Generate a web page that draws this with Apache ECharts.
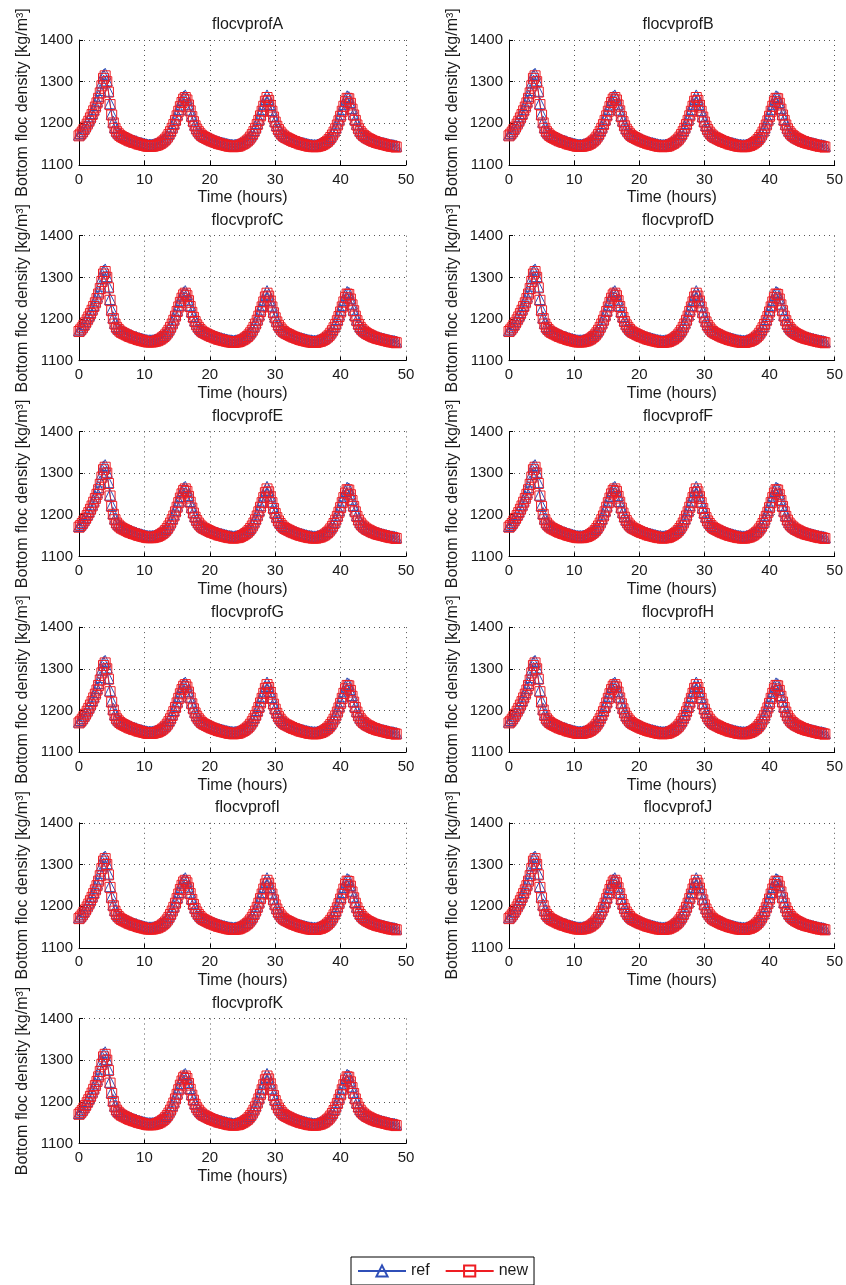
<!DOCTYPE html>
<html>
<head>
<meta charset="utf-8">
<script src="https://cdn.jsdelivr.net/npm/echarts@6/dist/echarts.min.js"></script>
<style>
    html, body { margin: 0; padding: 0; background: #fff; }
    #main { width: 846px; height: 1285px; }
</style>
</head>
<body>
<div id="main"></div>
<script>
// profile names, one subplot each
var profNames = ['flocvprofA', 'flocvprofB', 'flocvprofC', 'flocvprofD', 'flocvprofE', 'flocvprofF',
    'flocvprofG', 'flocvprofH', 'flocvprofI', 'flocvprofJ', 'flocvprofK']

// time (hours)
var timeHours = [
    0, 0.25, 0.5, 0.75, 1, 1.25, 1.5, 1.75,
    2, 2.25, 2.5, 2.75, 3, 3.25, 3.5, 3.75,
    4, 4.25, 4.5, 4.75, 5, 5.25, 5.5, 5.75,
    6, 6.25, 6.5, 6.75, 7, 7.25, 7.5, 7.75,
    8, 8.25, 8.5, 8.75, 9, 9.25, 9.5, 9.75,
    10, 10.25, 10.5, 10.75, 11, 11.25, 11.5, 11.75,
    12, 12.25, 12.5, 12.75, 13, 13.25, 13.5, 13.75,
    14, 14.25, 14.5, 14.75, 15, 15.25, 15.5, 15.75,
    16, 16.25, 16.5, 16.75, 17, 17.25, 17.5, 17.75,
    18, 18.25, 18.5, 18.75, 19, 19.25, 19.5, 19.75,
    20, 20.25, 20.5, 20.75, 21, 21.25, 21.5, 21.75,
    22, 22.25, 22.5, 22.75, 23, 23.25, 23.5, 23.75,
    24, 24.25, 24.5, 24.75, 25, 25.25, 25.5, 25.75,
    26, 26.25, 26.5, 26.75, 27, 27.25, 27.5, 27.75,
    28, 28.25, 28.5, 28.75, 29, 29.25, 29.5, 29.75,
    30, 30.25, 30.5, 30.75, 31, 31.25, 31.5, 31.75,
    32, 32.25, 32.5, 32.75, 33, 33.25, 33.5, 33.75,
    34, 34.25, 34.5, 34.75, 35, 35.25, 35.5, 35.75,
    36, 36.25, 36.5, 36.75, 37, 37.25, 37.5, 37.75,
    38, 38.25, 38.5, 38.75, 39, 39.25, 39.5, 39.75,
    40, 40.25, 40.5, 40.75, 41, 41.25, 41.5, 41.75,
    42, 42.25, 42.5, 42.75, 43, 43.25, 43.5, 43.75,
    44, 44.25, 44.5, 44.75, 45, 45.25, 45.5, 45.75,
    46, 46.25, 46.5, 46.75, 47, 47.25, 47.5, 47.75,
    48, 48.25, 48.5
]

// bottom floc density, reference run (kg/m3)
var refDensity = [
    1173, 1177, 1182, 1188, 1195, 1202, 1209, 1217,
    1225, 1234, 1244, 1254, 1266, 1280, 1298, 1316,
    1319, 1303, 1278, 1248, 1223, 1204, 1191, 1183,
    1178, 1175, 1172, 1170, 1168, 1166, 1164, 1162,
    1161, 1159, 1158, 1157, 1155, 1154, 1153, 1152,
    1151, 1150, 1149, 1149, 1149, 1149, 1150, 1151,
    1152, 1154, 1156, 1159, 1162, 1166, 1171, 1177,
    1184, 1192, 1201, 1211, 1222, 1234, 1245, 1256,
    1264, 1267, 1260, 1247, 1233, 1219, 1207, 1197,
    1189, 1183, 1178, 1174, 1171, 1169, 1167, 1165,
    1163, 1162, 1160, 1159, 1157, 1156, 1155, 1154,
    1153, 1152, 1151, 1150, 1149, 1149, 1148, 1148,
    1149, 1149, 1150, 1152, 1154, 1156, 1159, 1162,
    1166, 1171, 1177, 1184, 1192, 1201, 1211, 1223,
    1234, 1246, 1258, 1267, 1259, 1246, 1232, 1218,
    1206, 1196, 1188, 1182, 1177, 1173, 1170, 1168,
    1166, 1164, 1162, 1161, 1159, 1158, 1156, 1155,
    1154, 1153, 1152, 1151, 1150, 1149, 1149, 1148,
    1148, 1148, 1149, 1150, 1151, 1153, 1155, 1158,
    1161, 1165, 1170, 1176, 1183, 1191, 1200, 1211,
    1222, 1234, 1246, 1257, 1265, 1263, 1251, 1237,
    1223, 1210, 1199, 1190, 1183, 1178, 1174, 1171,
    1168, 1166, 1164, 1162, 1160, 1159, 1157, 1156,
    1155, 1154, 1153, 1152, 1151, 1150, 1149, 1148,
    1148, 1147, 1146
]

// bottom floc density, new run (kg/m3)
var newDensity = [
    1170, 1174, 1179, 1185, 1191, 1198, 1205, 1213,
    1221, 1230, 1239, 1249, 1260, 1273, 1290, 1308,
    1314, 1300, 1275, 1245, 1220, 1201, 1188, 1180,
    1175, 1171, 1168, 1166, 1164, 1162, 1160, 1158,
    1157, 1155, 1154, 1153, 1151, 1150, 1149, 1148,
    1147, 1146, 1145, 1145, 1145, 1145, 1146, 1147,
    1148, 1150, 1152, 1155, 1158, 1162, 1167, 1173,
    1180, 1188, 1197, 1207, 1218, 1229, 1240, 1250,
    1258, 1262, 1256, 1244, 1230, 1216, 1204, 1194,
    1186, 1180, 1175, 1171, 1168, 1166, 1164, 1162,
    1160, 1158, 1157, 1155, 1154, 1152, 1151, 1150,
    1149, 1148, 1147, 1146, 1145, 1145, 1144, 1144,
    1145, 1145, 1146, 1148, 1150, 1152, 1155, 1158,
    1162, 1167, 1173, 1180, 1188, 1197, 1207, 1218,
    1229, 1241, 1253, 1262, 1255, 1243, 1229, 1215,
    1203, 1193, 1185, 1179, 1174, 1170, 1167, 1165,
    1163, 1161, 1159, 1157, 1156, 1154, 1153, 1151,
    1150, 1149, 1148, 1147, 1146, 1145, 1145, 1144,
    1144, 1144, 1145, 1146, 1147, 1149, 1151, 1154,
    1157, 1161, 1166, 1172, 1179, 1187, 1196, 1206,
    1217, 1229, 1241, 1252, 1260, 1259, 1248, 1234,
    1220, 1207, 1196, 1187, 1180, 1175, 1171, 1168,
    1165, 1163, 1161, 1159, 1157, 1156, 1154, 1153,
    1152, 1151, 1150, 1149, 1148, 1147, 1146, 1145,
    1145, 1144, 1143
]

var xMin = 0, xMax = 50, xStep = 10
var yMin = 1100, yMax = 1400, yStep = 100

var blue = '#2f4fb8'
var red = '#ee1d23'
var ink = '#1a1a1a'
var font = "'Liberation Sans', Arial, Helvetica, sans-serif"

function pairs(vals) {
    let out = []
    timeHours.forEach(function (t, k) {
        out.push([t, vals[k]])
    })
    return out
}

var refPts = pairs(refDensity)
var newPts = pairs(newDensity)

// subplot layout (pixels)
var colLeft = [79, 509]
var colWidth = [327, 328]
var rowTop = [40, 235.7, 431.4, 627.1, 822.8, 1018.5]
var plotH = 125

var grids = [], xAxes = [], yAxes = [], titles = [], series = []

profNames.forEach(function (name, i) {
    let row = Math.floor(i / 2)
    let col = i % 2
    let left = colLeft[col]
    let top = rowTop[row]

    grids.push({ left: left, top: top, width: colWidth[col], height: plotH })

    titles.push({
        text: name,
        left: left + colWidth[col] / 2,
        top: top - 28,
        textAlign: 'center',
        textStyle: { fontFamily: font, fontSize: 16, fontWeight: 'normal', color: ink }
    })

    xAxes.push({
        type: 'value', gridIndex: i,
        min: xMin, max: xMax, interval: xStep,
        name: 'Time (hours)', nameLocation: 'middle', nameGap: 25,
        nameTextStyle: { fontFamily: font, fontSize: 16, color: ink },
        axisLine: { onZero: false, lineStyle: { color: '#000', width: 1 } },
        axisTick: { inside: true, length: 4, lineStyle: { color: '#000' } },
        axisLabel: { fontFamily: font, fontSize: 15, color: ink, margin: 7 },
        splitLine: { show: true, lineStyle: { color: '#555', type: [1, 4], width: 1 } }
    })

    yAxes.push({
        type: 'value', gridIndex: i,
        min: yMin, max: yMax, interval: yStep,
        name: 'Bottom floc density [kg/m³]', nameLocation: 'middle', nameRotate: 90, nameGap: 48,
        nameTextStyle: { fontFamily: font, fontSize: 16, color: ink },
        axisLine: { onZero: false, lineStyle: { color: '#000', width: 1 } },
        axisTick: { inside: true, length: 4, lineStyle: { color: '#000' } },
        axisLabel: {
            fontFamily: font, fontSize: 15, color: ink, margin: 6,
            formatter: function (v) { return String(v) }
        },
        splitLine: { show: true, lineStyle: { color: '#555', type: [1, 4], width: 1 } }
    })

    series.push({
        name: 'ref', type: 'line', xAxisIndex: i, yAxisIndex: i,
        data: refPts,
        symbol: 'triangle', symbolSize: 11,
        itemStyle: { color: 'rgba(0,0,0,0)', borderColor: blue, borderWidth: 1 },
        lineStyle: { color: blue, width: 1 },
        silent: true
    })
    series.push({
        name: 'new', type: 'line', xAxisIndex: i, yAxisIndex: i,
        data: newPts,
        symbol: 'rect', symbolSize: 10,
        itemStyle: { color: 'rgba(0,0,0,0)', borderColor: red, borderWidth: 1 },
        lineStyle: { color: red, width: 1 },
        silent: true
    })
})

var myChart = echarts.init(document.getElementById('main'))
var option = {
    animation: false,
    backgroundColor: '#fff',
    title: titles,
    grid: grids,
    xAxis: xAxes,
    yAxis: yAxes,
    legend: {
        data: ['ref', 'new'],
        left: 351, top: 1257,
        itemWidth: 48, itemHeight: 14, itemGap: 15,
        padding: [6, 6],
        borderColor: '#000', borderWidth: 1,
        textStyle: { fontFamily: font, fontSize: 16, color: ink }
    },
    series: series
}
myChart.setOption(option)
</script>
</body>
</html>
